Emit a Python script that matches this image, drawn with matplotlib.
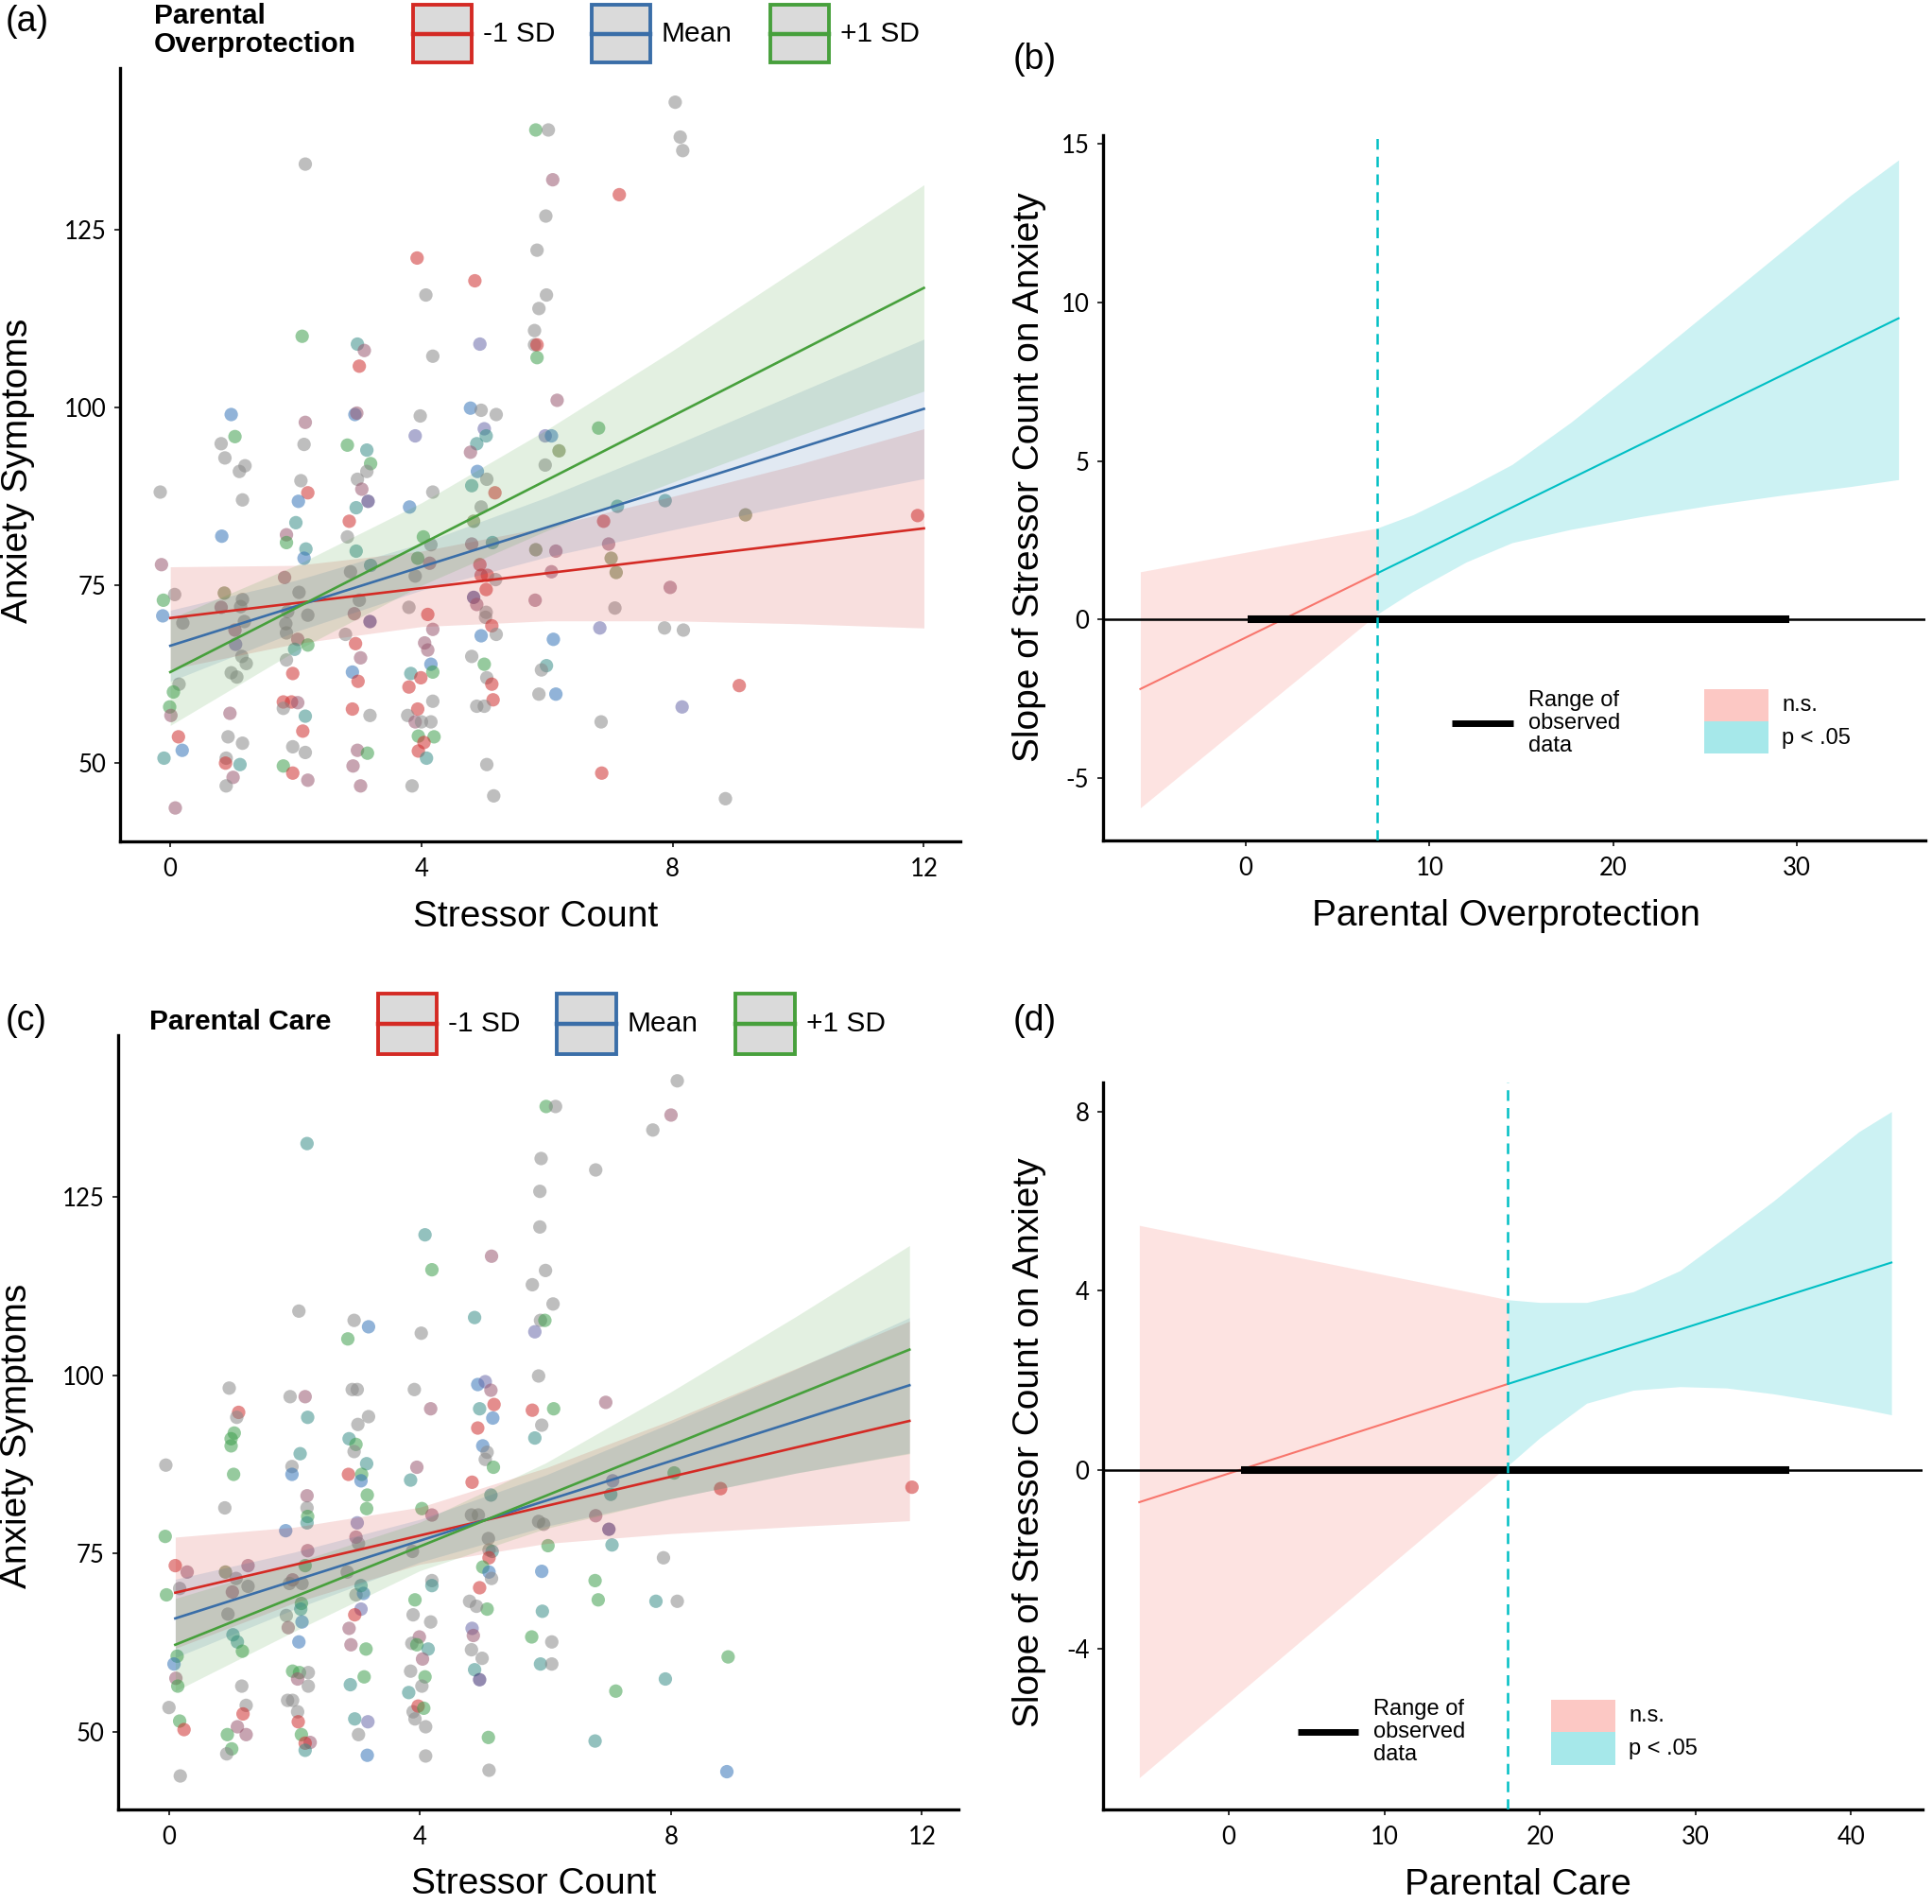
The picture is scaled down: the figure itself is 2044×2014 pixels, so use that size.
import matplotlib
matplotlib.use("Agg")
import matplotlib.pyplot as plt
from matplotlib.patches import Rectangle
from matplotlib.lines import Line2D

W, H = 2044, 2014
plt.rcParams["font.family"] = ["Liberation Sans", "DejaVu Sans"]
plt.rcParams["axes.unicode_minus"] = False

# ── Panel (a): stressor count x anxiety, moderated by overprotection ──────────
A_X = [-0.16, -0.14, -0.11, -0.12, 0.07, 0.2, 0.14, 0.05, -0.01, 0.01, 0.13, 0.19, -0.1, 0.08,
       0.97, 1.03, 0.81, 0.87, 1.19, 1.1, 1.15, 0.82, 0.86, 0.81, 1.15, 1.12, 1.18, 1.03, 1.04,
       1.14, 1.21, 0.97, 1.06, 0.95, 0.92, 1.15, 0.89, 0.88, 1.11, 1.0, 0.89,
       2.15, 2.1, 2.15, 2.13, 2.08, 2.19, 2.04, 2.0, 1.85, 1.85, 2.16, 2.13, 1.82, 2.05, 1.87,
       2.19, 1.84, 1.85, 2.03, 1.98, 2.19, 1.85, 1.95, 1.8, 1.93, 2.03, 1.8, 2.15, 2.11, 1.95,
       2.15, 1.8, 1.95, 2.19,
       2.98, 3.09, 3.01, 2.94, 2.97, 2.82, 3.13, 3.19, 3.13, 2.98, 3.05, 3.15, 2.96, 2.85, 2.82,
       2.96, 3.19, 2.87, 3.01, 2.93, 3.18, 2.79, 2.95, 3.03, 2.9, 2.99, 2.9, 3.18, 2.98, 3.14,
       2.91, 3.03,
       3.93, 4.07, 4.18, 3.98, 3.9, 4.18, 3.81, 4.03, 4.15, 3.94, 4.13, 3.9, 3.8, 4.1, 4.18,
       4.05, 4.1, 4.15, 4.18, 3.83, 3.99, 3.8, 4.18, 3.94, 3.78, 3.9, 4.0, 4.15, 3.95, 4.2,
       4.04, 3.95, 4.08, 3.85,
       4.85, 4.93, 4.78, 4.95, 5.19, 5.0, 5.03, 4.88, 4.78, 4.89, 5.04, 4.8, 5.17, 4.95, 4.83,
       5.13, 4.8, 4.93, 4.95, 5.05, 5.18, 5.03, 4.83, 4.88, 5.03, 5.02, 5.12, 5.19, 4.95, 4.8,
       5.0, 5.04, 5.12, 5.14, 4.88, 5.0, 5.04, 5.15,
       5.82, 6.02, 6.09, 5.98, 5.84, 5.99, 5.87, 5.8, 5.8, 5.84, 5.84, 6.16, 5.97, 6.07, 6.19,
       5.97, 5.82, 6.14, 6.07, 5.81, 6.1, 5.99, 5.91, 5.87, 6.14,
       7.15, 6.82, 7.12, 6.9, 6.98, 7.02, 7.1, 7.08, 6.84, 6.86, 6.87,
       8.04, 8.12, 8.16, 7.88, 7.96, 7.87, 8.17, 8.15,
       9.16, 9.06, 8.84, 11.9]
A_Y = [88.1, 77.9, 72.9, 70.7, 73.7, 69.7, 61.1, 60.0, 57.9, 56.7, 53.7, 51.8, 50.7, 43.7,
       99.0, 95.9, 94.9, 92.9, 91.8, 91.0, 87.0, 81.9, 73.9, 71.9, 73.0, 72.0, 69.9, 68.7, 66.7,
       65.0, 64.0, 62.7, 62.1, 57.0, 53.7, 52.8, 50.7, 50.0, 49.8, 48.0, 46.8,
       134.2, 110.0, 97.9, 94.8, 89.7, 88.0, 86.8, 83.8, 82.1, 81.0, 80.1, 78.8, 76.1, 74.0, 71.3,
       70.8, 69.6, 68.3, 67.4, 66.0, 66.6, 64.5, 62.6, 58.6, 58.6, 58.5, 57.7, 56.6, 54.5, 52.3,
       51.5, 49.6, 48.6, 47.6,
       108.9, 108.0, 105.8, 99.0, 99.2, 94.7, 94.0, 92.1, 91.0, 89.9, 88.5, 86.8, 85.9, 84.0, 81.8,
       79.8, 77.8, 76.9, 72.9, 71.0, 69.9, 68.1, 66.8, 64.8, 62.8, 61.5, 57.6, 56.7, 51.8, 51.4,
       49.6, 46.8,
       121.0, 115.8, 107.2, 98.8, 96.0, 88.1, 86.0, 81.8, 80.7, 78.8, 78.1, 76.3, 71.9, 70.9, 68.8,
       66.9, 65.9, 63.9, 62.8, 62.6, 62.0, 60.7, 58.7, 57.6, 56.7, 55.8, 55.8, 55.8, 53.8, 53.7,
       52.9, 51.7, 50.7, 46.8,
       117.8, 108.9, 99.9, 99.6, 99.0, 97.0, 96.0, 94.9, 93.7, 91.0, 89.9, 89.0, 88.0, 86.0, 84.0,
       81.0, 80.8, 77.9, 76.4, 76.4, 75.8, 74.4, 73.3, 72.3, 71.2, 70.5, 69.3, 68.1, 67.9, 65.0,
       63.9, 62.0, 61.1, 58.9, 58.0, 58.0, 49.8, 45.4,
       139.0, 139.0, 132.0, 126.9, 122.1, 115.8, 113.9, 110.8, 108.8, 108.8, 107.0, 101.0, 96.0, 96.0, 93.9,
       91.9, 80.0, 79.8, 76.9, 72.9, 67.4, 63.7, 63.1, 59.7, 59.7,
       129.9, 97.1, 86.1, 84.0, 80.8, 78.8, 76.8, 71.8, 69.0, 55.8, 48.6,
       142.9, 138.0, 136.1, 86.9, 74.7, 69.0, 68.7, 57.9,
       84.9, 60.9, 45.0, 84.8]
A_C = ("kmgbkkkggmrbtm"
       "bgkkkkkbomkkkmlkkkkmkkkrtmk"
       "kgmkkrbtmgtbmkkkkkmtgkrrrmktrkkgrm"
       "tmrbmgtgkkmptrkttkkmpkrmbrrkmgmm"
       "rkkklkbgkgmkkrmmmbgtrrkrkmkkggrrtk"
       "rlbkklttmbktrkotmrrrkrpmkkrkbkgkrrkkkk"
       "gkmkkkkkkrgmlbokommmbtkkb"
       "rgtrmooklkr"
       "kkktmkkl"
       "orkr")

A_LINE_X = [0, 12]
A_LINE_LOW = [70.4, 83.0]
A_LINE_MEAN = [66.5, 99.8]
A_LINE_HIGH = [62.8, 116.8]
A_BAND_X = [0, 2, 4, 6, 8, 10, 12]
A_LOW_LO = [63.2, 66.8, 69.2, 70.0, 70.0, 69.6, 69.0]
A_LOW_HI = [77.6, 77.8, 79.8, 83.2, 87.5, 92.0, 97.0]
A_MEAN_LO = [61.5, 68.5, 74.3, 79.0, 82.8, 86.5, 90.0]
A_MEAN_HI = [71.5, 75.7, 80.9, 87.4, 94.6, 102.1, 109.6]
A_HIGH_LO = [55.3, 65.8, 75.0, 82.7, 89.5, 96.0, 102.3]
A_HIGH_HI = [70.3, 77.8, 86.6, 96.9, 108.0, 119.6, 131.3]

# ── Panel (c): moderated by parental care ─────────────────────────────────────
C_X = [-0.05, -0.06, 0.1, 0.29, 0.17, -0.04, 0.13, 0.08, 0.11, 0.14, 0.0, 0.17, 0.24, 0.18,
       0.96, 1.11, 1.08, 1.04, 0.99, 0.99, 1.03, 0.89, 0.9, 1.26, 1.07, 1.01, 1.26, 0.94, 1.02,
       1.09, 1.17, 1.16, 1.23, 1.18, 1.09, 1.23, 0.93, 1.0, 0.92,
       2.2, 2.07, 1.93, 2.17, 2.21, 2.09, 1.96, 1.96, 2.2, 2.2, 2.21, 2.2, 1.86, 2.21, 2.17,
       1.97, 2.12, 1.92, 2.11, 2.1, 1.87, 2.12, 1.9, 2.07, 1.97, 2.08, 2.22, 2.05, 2.22, 1.89,
       1.97, 2.05, 2.06, 2.11, 2.25, 2.17, 2.17,
       2.95, 3.18, 2.85, 2.92, 3.0, 3.18, 3.01, 2.87, 2.98, 2.95, 3.15, 2.86, 3.07, 3.06, 3.16,
       3.15, 3.0, 2.98, 3.02, 2.84, 2.98, 3.1, 3.06, 3.06, 2.96, 2.87, 2.9, 3.14, 3.11, 2.89,
       2.96, 3.17, 3.02, 3.16,
       4.08, 4.19, 4.02, 3.91, 4.17, 3.95, 3.85, 4.03, 4.19, 3.88, 4.19, 4.19, 3.92, 3.89, 4.17,
       3.99, 3.87, 3.95, 4.13, 4.04, 3.85, 4.08, 4.03, 3.82, 3.89, 3.97, 4.06, 3.92, 4.09, 4.09,
       4.87, 5.14, 4.92, 5.04, 5.13, 5.18, 4.95, 5.16, 4.92, 5.0, 5.07, 5.04, 5.17, 4.83, 5.13,
       4.82, 4.93, 5.09, 5.1, 5.15, 5.1, 5.0, 5.1, 5.14, 4.95, 5.07, 4.79, 4.9, 4.83, 4.85,
       4.82, 4.99, 4.87, 4.95, 5.09, 5.1,
       6.01, 6.16, 5.93, 5.91, 5.91, 6.0, 5.79, 6.12, 5.92, 5.99, 5.83, 5.89, 5.79, 6.13, 5.94,
       5.83, 5.89, 5.97, 6.04, 5.94, 5.95, 5.78, 6.1, 5.92, 6.1,
       6.8, 6.96, 7.07, 7.04, 6.8, 7.01, 7.06, 6.79, 6.84, 7.12, 6.79,
       8.1, 8.0, 7.71, 8.05, 7.88, 7.76, 8.1, 7.91,
       8.79, 8.91, 8.89, 11.84]
C_Y = [87.4, 77.4, 73.3, 72.4, 70.1, 69.2, 60.6, 59.5, 57.5, 56.4, 53.4, 51.5, 50.3, 43.8,
       98.2, 94.8, 94.1, 91.9, 91.1, 90.1, 86.1, 81.4, 72.4, 73.3, 71.5, 69.6, 70.4, 66.5, 63.6,
       62.6, 61.3, 56.4, 53.7, 52.5, 50.7, 49.6, 49.6, 47.6, 46.9,
       132.5, 109.0, 97.0, 97.0, 94.1, 89.0, 87.2, 86.1, 83.1, 81.4, 80.2, 79.3, 78.2, 75.4, 73.3,
       71.3, 70.8, 70.8, 68.0, 67.2, 66.3, 65.4, 64.6, 62.6, 58.5, 58.3, 58.3, 57.4, 56.4, 54.4,
       54.4, 52.8, 51.4, 49.6, 48.5, 48.4, 47.4,
       107.7, 106.8, 105.1, 98.0, 98.0, 94.2, 93.1, 91.1, 90.3, 89.3, 87.6, 86.1, 86.1, 85.2, 83.2,
       81.3, 79.3, 77.3, 76.4, 72.4, 69.2, 69.4, 70.5, 67.2, 66.4, 64.5, 62.2, 61.6, 57.7, 56.6,
       51.8, 51.4, 49.6, 46.7,
       119.7, 114.8, 105.9, 98.0, 95.3, 87.1, 85.3, 81.3, 80.4, 75.3, 71.2, 70.5, 68.5, 66.4, 65.4,
       63.3, 62.4, 62.2, 61.6, 60.2, 58.5, 57.7, 56.4, 55.5, 52.8, 53.6, 53.3, 51.8, 50.7, 46.6,
       108.1, 116.7, 98.7, 99.1, 97.9, 95.9, 95.3, 94.0, 92.6, 90.1, 89.2, 88.2, 87.1, 85.0, 83.2,
       80.4, 80.4, 77.1, 75.5, 75.3, 74.4, 73.1, 72.4, 71.5, 70.2, 67.2, 68.3, 67.6, 64.5, 63.5,
       61.5, 60.3, 58.7, 57.3, 49.2, 44.6,
       137.7, 137.7, 130.4, 125.8, 120.8, 114.7, 112.7, 110.0, 107.7, 107.7, 106.1, 99.9, 95.1, 95.3, 93.0,
       91.2, 79.5, 79.1, 76.1, 72.5, 66.9, 63.3, 62.6, 59.5, 59.5,
       128.8, 96.2, 85.2, 83.3, 80.3, 78.4, 76.2, 71.2, 68.5, 55.7, 48.7,
       141.3, 136.5, 134.4, 86.3, 74.4, 68.3, 68.3, 57.4,
       84.1, 60.5, 44.4, 84.3]
C_C = ("kgrmkggbmgkgrk"
       "krkggggkomkmkkttgkkrmmggk"
       "tkkmttkbmkgtbmgmkkgtkbmbggkmkkkkrgmrt"
       "kbgkkkktgktrgbgglmkkkbtlrmmggttlkb"
       "tgkkmmtgmkktgkkmkgtmkgktkrgkkk"
       "tmblmrtbrbkkgrtkkkktrgbkrgkklmkktpgk"
       "gkkkkkkkkglkrgktkkgbtgktk"
       "kmltmptgggt"
       "kmkgktkt"
       "rgbr")

C_LINE_X = [0.1, 11.8]
C_LINE_LOW = [69.5, 93.6]
C_LINE_MEAN = [65.9, 98.6]
C_LINE_HIGH = [62.2, 103.6]
C_BAND_X = [0.1, 2, 4, 6, 8, 10, 11.8]
C_LOW_LO = [61.7, 68.1, 73.5, 76.4, 77.8, 78.8, 79.6]
C_LOW_HI = [77.3, 78.7, 81.5, 87.0, 93.7, 101.0, 107.6]
C_MEAN_LO = [60.4, 67.2, 73.8, 78.8, 82.7, 86.3, 89.1]
C_MEAN_HI = [71.4, 75.2, 79.8, 86.0, 93.3, 100.9, 108.1]
C_HIGH_LO = [55.7, 64.1, 72.6, 78.5, 82.7, 86.3, 89.0]
C_HIGH_HI = [68.7, 73.7, 79.4, 87.7, 97.7, 108.3, 118.2]

# ── Panel (b): Johnson-Neyman, overprotection ─────────────────────────────────
B_JN = 7.15
B_NS_X = [-5.74, 7.15]
B_NS_SLOPE = [-2.2, 1.45]
B_NS_LO = [-5.95, 0.16]
B_NS_HI = [1.5, 2.88]
B_SIG_X = [7.15, 9.1, 12, 14.5, 17.7, 21.5, 25.3, 29.1, 32.9, 35.54]
B_SIG_LO = [0.16, 0.88, 1.81, 2.42, 2.84, 3.24, 3.6, 3.91, 4.19, 4.41]
B_SIG_HI = [2.88, 3.30, 4.12, 4.89, 6.22, 7.97, 9.77, 11.57, 13.37, 14.5]
B_SIG_LINE_X = [7.15, 35.54]
B_SIG_SLOPE = [1.45, 9.5]
B_RANGE = [0.1, 29.6]

# ── Panel (d): Johnson-Neyman, care ───────────────────────────────────────────
D_JN = 17.95
D_NS_X = [-5.76, 17.95]
D_NS_SLOPE = [-0.72, 1.92]
D_NS_LO = [-6.87, 0.1]
D_NS_HI = [5.46, 3.80]
D_SIG_X = [17.95, 20, 23, 26, 29, 32, 35, 38, 40.5, 42.6]
D_SIG_LO = [0.1, 0.72, 1.49, 1.78, 1.86, 1.83, 1.70, 1.53, 1.38, 1.23]
D_SIG_HI = [3.80, 3.74, 3.74, 3.98, 4.45, 5.22, 6.0, 6.85, 7.55, 8.0]
D_SIG_LINE_X = [17.95, 42.6]
D_SIG_SLOPE = [1.92, 4.63]
D_RANGE = [0.8, 36.06]

LEVELS = ["-1 SD", "Mean", "+1 SD"]

# ── Styling ───────────────────────────────────────────────────────────────────
RED, BLUE, GREEN = "#d42a24", "#3a6ea8", "#47a03c"
PINK, CYAN = "#F8766D", "#00BFC4"
PT_COLORS = {"k": "#8a8a8a", "r": "#cf2f2f", "b": "#3776b8", "g": "#40a04e",
             "t": "#3a8f8a", "m": "#9a5a72", "l": "#6a6aaa", "o": "#6a7a40",
             "p": "#3a2a70"}
TICK_FONT = "Lato"


def frect(l, t, r, b):
    return [l / W, 1 - b / H, (r - l) / W, (b - t) / H]


def fx(x):
    return x / W


def fy(y):
    return 1 - y / H


def style_axes(ax, xticks, yticks, xlim, ylim):
    for s in ("top", "right"):
        ax.spines[s].set_visible(False)
    for s in ("left", "bottom"):
        ax.spines[s].set_linewidth(2.4)
    ax.set_xlim(*xlim)
    ax.set_ylim(*ylim)
    ax.set_xticks(xticks)
    ax.set_xticklabels([str(t) for t in xticks], fontfamily=TICK_FONT, fontsize=18.5)
    ax.set_yticks(yticks)
    ax.set_yticklabels([str(t) for t in yticks], fontfamily=TICK_FONT, fontsize=18.5)
    ax.tick_params(axis="x", length=4.5, width=1.4, pad=8, color="#333333")
    ax.tick_params(axis="y", length=4.5, width=1.4, pad=6, color="#333333")


def set_labels(ax, xlabel, ylabel, xl_pos, yl_pos):
    ax.set_xlabel(xlabel, fontsize=28, va="center")
    ax.xaxis.set_label_coords(*xl_pos)
    ax.set_ylabel(ylabel, fontsize=28, va="center", ha="center")
    ax.yaxis.set_label_coords(*yl_pos)


def scatter_panel(ax, xs, ys, codes, band_x, bands, line_x, lines):
    ax.scatter(xs, ys, s=105, c=[PT_COLORS[c] for c in codes], alpha=0.55,
               linewidths=0, zorder=1)
    for (lo, hi), col in zip(bands, (RED, BLUE, GREEN)):
        ax.fill_between(band_x, lo, hi, color=col, alpha=0.15, lw=0, zorder=2)
    for yv, col in zip(lines, (RED, BLUE, GREEN)):
        ax.plot(line_x, yv, color=col, lw=1.9, zorder=3)


def mod_legend(fig, title, title_xy, keys):
    fig.text(fx(title_xy[0]), fy(title_xy[1]), title, fontsize=21.5, fontweight="bold",
             ha="left", va="center", linespacing=1.05)
    for (l, t, r, b), col, lab in zip(keys, (RED, BLUE, GREEN), LEVELS):
        fig.add_artist(Rectangle((fx(l), fy(b)), (r - l) / W, (b - t) / H,
                                 transform=fig.transFigure, facecolor="#dadada",
                                 edgecolor=col, lw=2.8))
        ym = fy((t + b) / 2)
        fig.add_artist(Line2D([fx(l), fx(r)], [ym, ym], transform=fig.transFigure,
                              color=col, lw=3.2))
        fig.text(fx(r + 12), ym, lab, fontsize=21.5, ha="left", va="center")


def jn_panel(ax, jn, ns_x, ns_slope, ns_lo, ns_hi, sig_x, sig_lo, sig_hi,
             sig_line_x, sig_slope, rng):
    ax.fill_between(ns_x, ns_lo, ns_hi, color=PINK, alpha=0.2, lw=0, zorder=1)
    ax.fill_between(sig_x, sig_lo, sig_hi, color=CYAN, alpha=0.2, lw=0, zorder=1)
    ax.plot(ns_x, ns_slope, color=PINK, lw=1.5, zorder=2)
    ax.plot(sig_line_x, sig_slope, color=CYAN, lw=1.5, zorder=2)
    ax.axhline(0, color="black", lw=1.8, zorder=3)
    ax.plot(rng, [0, 0], color="black", lw=5.8, solid_capstyle="butt", zorder=4)
    ax.axvline(jn, color=CYAN, lw=1.8, dashes=(4.5, 3), zorder=5)


def jn_legend(fig, seg, text_xy, patch_box, ns_xy, sig_xy):
    fig.add_artist(Line2D([fx(seg[0]), fx(seg[1])], [fy(seg[2]), fy(seg[2])],
                          transform=fig.transFigure, color="black", lw=5,
                          solid_capstyle="butt"))
    fig.text(fx(text_xy[0]), fy(text_xy[1]), "Range of\nobserved\ndata", fontsize=17,
             ha="left", va="center", linespacing=1.12)
    l, t, r, m, b = patch_box
    fig.add_artist(Rectangle((fx(l), fy(m)), (r - l) / W, (m - t) / H,
                             transform=fig.transFigure, facecolor=PINK, alpha=0.4, lw=0))
    fig.add_artist(Rectangle((fx(l), fy(b)), (r - l) / W, (b - m) / H,
                             transform=fig.transFigure, facecolor=CYAN, alpha=0.35, lw=0))
    fig.text(fx(ns_xy[0]), fy(ns_xy[1]), "n.s.", fontsize=17, ha="left", va="center")
    fig.text(fx(sig_xy[0]), fy(sig_xy[1]), "p < .05", fontsize=17, ha="left", va="center")


fig = plt.figure(figsize=(W / 100, H / 100), dpi=100)

# (a)
ax_a = fig.add_axes(frect(127, 72, 1016, 890))
scatter_panel(ax_a, A_X, A_Y, A_C, A_BAND_X,
              [(A_LOW_LO, A_LOW_HI), (A_MEAN_LO, A_MEAN_HI), (A_HIGH_LO, A_HIGH_HI)],
              A_LINE_X, [A_LINE_LOW, A_LINE_MEAN, A_LINE_HIGH])
style_axes(ax_a, [0, 4, 8, 12], [50, 75, 100, 125], (-0.8, 12.58), (39.0, 147.7))
set_labels(ax_a, "Stressor Count", "Anxiety Symptoms", (0.494, -0.098), (-0.121, 0.479))
mod_legend(fig, "Parental\nOverprotection", (163, 32),
           [(437, 5, 499, 66), (626, 5, 688, 66), (815, 5, 877, 66)])

# (b)
ax_b = fig.add_axes(frect(1167, 143, 2037, 889))
jn_panel(ax_b, B_JN, B_NS_X, B_NS_SLOPE, B_NS_LO, B_NS_HI, B_SIG_X, B_SIG_LO, B_SIG_HI,
         B_SIG_LINE_X, B_SIG_SLOPE, B_RANGE)
style_axes(ax_b, [0, 10, 20, 30], [-5, 0, 5, 10, 15], (-7.77, 37.0), (-6.98, 15.28))
set_labels(ax_b, "Parental Overprotection", "Slope of Stressor Count on Anxiety",
           (0.49, -0.107), (-0.090, 0.515))
jn_legend(fig, (1536, 1601, 765), (1617, 765), (1803, 729, 1871, 763, 797),
          (1885, 746), (1885, 781))

# (c)
ax_c = fig.add_axes(frect(125, 1095, 1014, 1914))
scatter_panel(ax_c, C_X, C_Y, C_C, C_BAND_X,
              [(C_LOW_LO, C_LOW_HI), (C_MEAN_LO, C_MEAN_HI), (C_HIGH_LO, C_HIGH_HI)],
              C_LINE_X, [C_LINE_LOW, C_LINE_MEAN, C_LINE_HIGH])
style_axes(ax_c, [0, 4, 8, 12], [50, 75, 100, 125], (-0.81, 12.58), (39.1, 147.7))
set_labels(ax_c, "Stressor Count", "Anxiety Symptoms", (0.494, -0.097), (-0.120, 0.482))
mod_legend(fig, "Parental Care", (158, 1081),
           [(400, 1051, 462, 1115), (589, 1051, 652, 1115), (778, 1051, 841, 1115)])

# (d)
ax_d = fig.add_axes(frect(1167, 1145, 2034, 1914))
jn_panel(ax_d, D_JN, D_NS_X, D_NS_SLOPE, D_NS_LO, D_NS_HI, D_SIG_X, D_SIG_LO, D_SIG_HI,
         D_SIG_LINE_X, D_SIG_SLOPE, D_RANGE)
style_axes(ax_d, [0, 10, 20, 30, 40], [-4, 0, 4, 8], (-8.09, 44.6), (-7.58, 8.65))
set_labels(ax_d, "Parental Care", "Slope of Stressor Count on Anxiety",
           (0.506, -0.1035), (-0.090, 0.505))
jn_legend(fig, (1373, 1437, 1832), (1453, 1832), (1641, 1798, 1709, 1832, 1867),
          (1723, 1815), (1723, 1850))

# panel letters
for letter, (x, y) in zip("abcd", [(6, 23), (1072, 63), (6, 1080), (1072, 1080)]):
    fig.text(fx(x), fy(y), f"({letter})", fontsize=27, ha="left", va="center")

fig.savefig("out.png", dpi=100)
